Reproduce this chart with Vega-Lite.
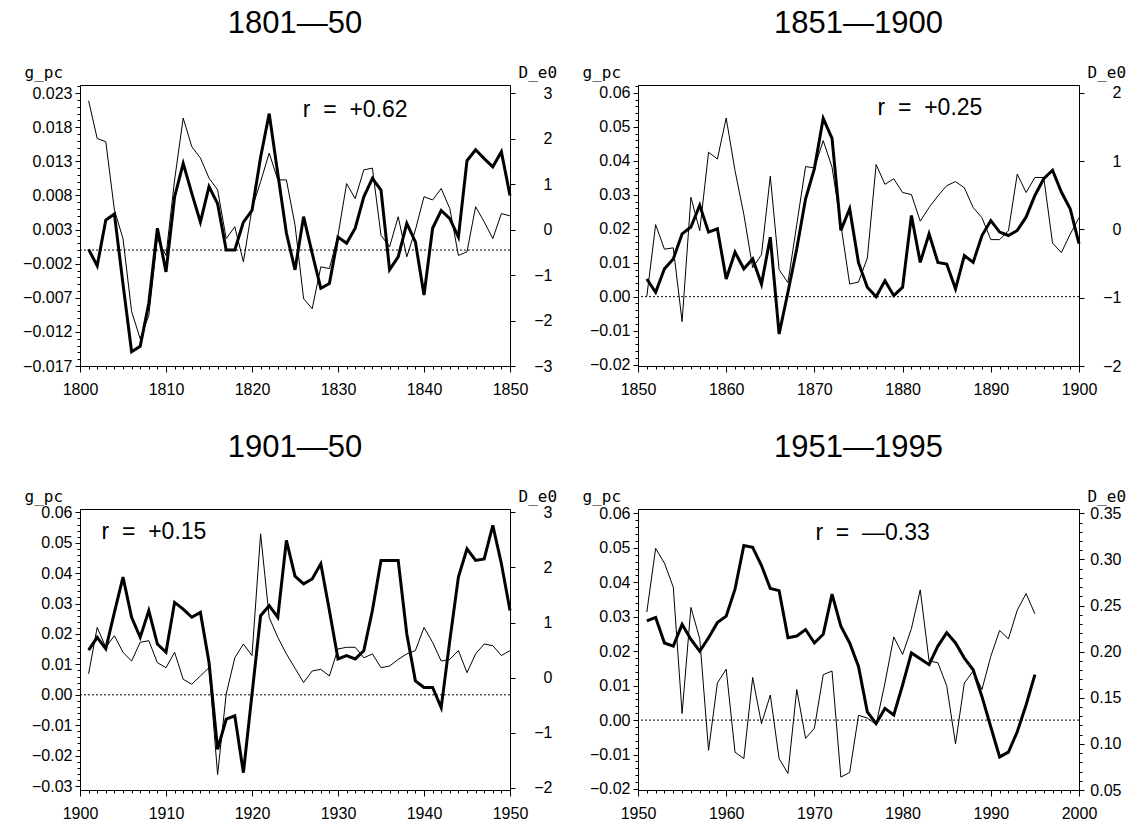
{
  "$schema": "https://vega.github.io/schema/vega-lite/v6.json",
  "padding": {"left": 22, "top": 7, "right": 0, "bottom": 0},
  "background": "white",
  "datasets": {
    "p1": [
      {"year": 1801, "g_pc": 0.0001, "D_e0": 2.83}, {"year": 1802, "g_pc": -0.0023, "D_e0": 2.0}, {"year": 1803, "g_pc": 0.0044, "D_e0": 1.93}, {"year": 1804, "g_pc": 0.0053, "D_e0": 0.43}, {"year": 1805, "g_pc": -0.005, "D_e0": -0.2},
      {"year": 1806, "g_pc": -0.0149, "D_e0": -1.8}, {"year": 1807, "g_pc": -0.0141, "D_e0": -2.4}, {"year": 1808, "g_pc": -0.0078, "D_e0": -1.89}, {"year": 1809, "g_pc": 0.0032, "D_e0": -0.2}, {"year": 1810, "g_pc": -0.0032, "D_e0": -0.57},
      {"year": 1811, "g_pc": 0.0078, "D_e0": 1.09}, {"year": 1812, "g_pc": 0.0127, "D_e0": 2.45}, {"year": 1813, "g_pc": 0.0083, "D_e0": 1.82}, {"year": 1814, "g_pc": 0.0041, "D_e0": 1.57}, {"year": 1815, "g_pc": 0.0093, "D_e0": 1.13},
      {"year": 1816, "g_pc": 0.0068, "D_e0": 0.87}, {"year": 1817, "g_pc": 0.0, "D_e0": -0.2}, {"year": 1818, "g_pc": 0.0, "D_e0": 0.06}, {"year": 1819, "g_pc": 0.0041, "D_e0": -0.71}, {"year": 1820, "g_pc": 0.0058, "D_e0": 0.46},
      {"year": 1821, "g_pc": 0.0136, "D_e0": 1.05}, {"year": 1822, "g_pc": 0.020, "D_e0": 1.68}, {"year": 1823, "g_pc": 0.0112, "D_e0": 1.09}, {"year": 1824, "g_pc": 0.0025, "D_e0": 1.09}, {"year": 1825, "g_pc": -0.0029, "D_e0": 0.1},
      {"year": 1826, "g_pc": 0.0049, "D_e0": -1.52}, {"year": 1827, "g_pc": -0.0005, "D_e0": -1.74}, {"year": 1828, "g_pc": -0.0056, "D_e0": -0.82}, {"year": 1829, "g_pc": -0.0049, "D_e0": -0.86}, {"year": 1830, "g_pc": 0.0019, "D_e0": -0.13},
      {"year": 1831, "g_pc": 0.0010, "D_e0": 1.01}, {"year": 1832, "g_pc": 0.0032, "D_e0": 0.68}, {"year": 1833, "g_pc": 0.0078, "D_e0": 1.31}, {"year": 1834, "g_pc": 0.0105, "D_e0": 1.35}, {"year": 1835, "g_pc": 0.0088, "D_e0": -0.13},
      {"year": 1836, "g_pc": -0.0029, "D_e0": -0.38}, {"year": 1837, "g_pc": -0.0010, "D_e0": 0.28}, {"year": 1838, "g_pc": 0.0039, "D_e0": -0.6}, {"year": 1839, "g_pc": 0.0012, "D_e0": -0.01}, {"year": 1840, "g_pc": -0.0066, "D_e0": 0.72},
      {"year": 1841, "g_pc": 0.0032, "D_e0": 0.65}, {"year": 1842, "g_pc": 0.0058, "D_e0": 0.9}, {"year": 1843, "g_pc": 0.0046, "D_e0": 0.46}, {"year": 1844, "g_pc": 0.0019, "D_e0": -0.57}, {"year": 1845, "g_pc": 0.0131, "D_e0": -0.49},
      {"year": 1846, "g_pc": 0.0147, "D_e0": 0.5}, {"year": 1847, "g_pc": 0.0134, "D_e0": 0.17}, {"year": 1848, "g_pc": 0.0122, "D_e0": -0.2}, {"year": 1849, "g_pc": 0.0144, "D_e0": 0.35}, {"year": 1850, "g_pc": 0.0080, "D_e0": 0.3}
    ],
    "p2": [
      {"year": 1851, "g_pc": 0.0052, "D_e0": -0.98}, {"year": 1852, "g_pc": 0.0013, "D_e0": 0.07}, {"year": 1853, "g_pc": 0.0082, "D_e0": -0.29}, {"year": 1854, "g_pc": 0.0111, "D_e0": -0.27}, {"year": 1855, "g_pc": 0.0185, "D_e0": -1.35},
      {"year": 1856, "g_pc": 0.0205, "D_e0": 0.47}, {"year": 1857, "g_pc": 0.0269, "D_e0": -0.02}, {"year": 1858, "g_pc": 0.019, "D_e0": 1.13}, {"year": 1859, "g_pc": 0.020, "D_e0": 1.03}, {"year": 1860, "g_pc": 0.0052, "D_e0": 1.63},
      {"year": 1861, "g_pc": 0.0131, "D_e0": 0.86}, {"year": 1862, "g_pc": 0.0082, "D_e0": 0.22}, {"year": 1863, "g_pc": 0.0111, "D_e0": -0.56}, {"year": 1864, "g_pc": 0.0037, "D_e0": -0.37}, {"year": 1865, "g_pc": 0.0175, "D_e0": 0.78},
      {"year": 1866, "g_pc": -0.011, "D_e0": -0.59}, {"year": 1867, "g_pc": 0.0013, "D_e0": -0.78}, {"year": 1868, "g_pc": 0.0141, "D_e0": 0.07}, {"year": 1869, "g_pc": 0.0288, "D_e0": 0.92}, {"year": 1870, "g_pc": 0.0377, "D_e0": 0.9},
      {"year": 1871, "g_pc": 0.0525, "D_e0": 1.3}, {"year": 1872, "g_pc": 0.0466, "D_e0": 0.91}, {"year": 1873, "g_pc": 0.0195, "D_e0": 0.07}, {"year": 1874, "g_pc": 0.0259, "D_e0": -0.8}, {"year": 1875, "g_pc": 0.010, "D_e0": -0.77},
      {"year": 1876, "g_pc": 0.0028, "D_e0": -0.42}, {"year": 1877, "g_pc": 0.0, "D_e0": 0.95}, {"year": 1878, "g_pc": 0.0047, "D_e0": 0.66}, {"year": 1879, "g_pc": 0.0003, "D_e0": 0.74}, {"year": 1880, "g_pc": 0.0028, "D_e0": 0.54},
      {"year": 1881, "g_pc": 0.0239, "D_e0": 0.51}, {"year": 1882, "g_pc": 0.0101, "D_e0": 0.12}, {"year": 1883, "g_pc": 0.0185, "D_e0": 0.32}, {"year": 1884, "g_pc": 0.0101, "D_e0": 0.49}, {"year": 1885, "g_pc": 0.0096, "D_e0": 0.64},
      {"year": 1886, "g_pc": 0.0023, "D_e0": 0.7}, {"year": 1887, "g_pc": 0.0121, "D_e0": 0.61}, {"year": 1888, "g_pc": 0.0101, "D_e0": 0.32}, {"year": 1889, "g_pc": 0.018, "D_e0": 0.17}, {"year": 1890, "g_pc": 0.0224, "D_e0": -0.15},
      {"year": 1891, "g_pc": 0.019, "D_e0": -0.15}, {"year": 1892, "g_pc": 0.018, "D_e0": -0.02}, {"year": 1893, "g_pc": 0.0195, "D_e0": 0.81}, {"year": 1894, "g_pc": 0.0234, "D_e0": 0.54}, {"year": 1895, "g_pc": 0.0298, "D_e0": 0.76},
      {"year": 1896, "g_pc": 0.0347, "D_e0": 0.76}, {"year": 1897, "g_pc": 0.0372, "D_e0": -0.2}, {"year": 1898, "g_pc": 0.0308, "D_e0": -0.34}, {"year": 1899, "g_pc": 0.0259, "D_e0": -0.07}, {"year": 1900, "g_pc": 0.0156, "D_e0": 0.17}
    ],
    "p3": [
      {"year": 1901, "g_pc": 0.0147, "D_e0": 0.07}, {"year": 1902, "g_pc": 0.0189, "D_e0": 0.91}, {"year": 1903, "g_pc": 0.0151, "D_e0": 0.55}, {"year": 1904, "g_pc": 0.0271, "D_e0": 0.76}, {"year": 1905, "g_pc": 0.0387, "D_e0": 0.46},
      {"year": 1906, "g_pc": 0.0255, "D_e0": 0.3}, {"year": 1907, "g_pc": 0.0189, "D_e0": 0.64}, {"year": 1908, "g_pc": 0.0277, "D_e0": 0.67}, {"year": 1909, "g_pc": 0.0167, "D_e0": 0.27}, {"year": 1910, "g_pc": 0.014, "D_e0": 0.18},
      {"year": 1911, "g_pc": 0.0304, "D_e0": 0.46}, {"year": 1912, "g_pc": 0.0282, "D_e0": -0.03}, {"year": 1913, "g_pc": 0.0255, "D_e0": -0.12}, {"year": 1914, "g_pc": 0.0271, "D_e0": 0.03}, {"year": 1915, "g_pc": 0.0107, "D_e0": 0.18},
      {"year": 1916, "g_pc": -0.0179, "D_e0": -1.76}, {"year": 1917, "g_pc": -0.008, "D_e0": -0.3}, {"year": 1918, "g_pc": -0.0069, "D_e0": 0.36}, {"year": 1919, "g_pc": -0.0256, "D_e0": 0.61}, {"year": 1920, "g_pc": 0.0002, "D_e0": 0.4},
      {"year": 1921, "g_pc": 0.026, "D_e0": 2.61}, {"year": 1922, "g_pc": 0.0293, "D_e0": 1.09}, {"year": 1923, "g_pc": 0.0255, "D_e0": 0.73}, {"year": 1924, "g_pc": 0.0508, "D_e0": 0.43}, {"year": 1925, "g_pc": 0.039, "D_e0": 0.17},
      {"year": 1926, "g_pc": 0.0365, "D_e0": -0.09}, {"year": 1927, "g_pc": 0.0381, "D_e0": 0.12}, {"year": 1928, "g_pc": 0.0431, "D_e0": 0.15}, {"year": 1929, "g_pc": 0.0277, "D_e0": 0.03}, {"year": 1930, "g_pc": 0.0118, "D_e0": 0.52},
      {"year": 1931, "g_pc": 0.0129, "D_e0": 0.55}, {"year": 1932, "g_pc": 0.0118, "D_e0": 0.55}, {"year": 1933, "g_pc": 0.0145, "D_e0": 0.36}, {"year": 1934, "g_pc": 0.0277, "D_e0": 0.43}, {"year": 1935, "g_pc": 0.0442, "D_e0": 0.18},
      {"year": 1936, "g_pc": 0.0442, "D_e0": 0.21}, {"year": 1937, "g_pc": 0.0442, "D_e0": 0.33}, {"year": 1938, "g_pc": 0.020, "D_e0": 0.43}, {"year": 1939, "g_pc": 0.0046, "D_e0": 0.49}, {"year": 1940, "g_pc": 0.0024, "D_e0": 0.91},
      {"year": 1941, "g_pc": 0.0024, "D_e0": 0.64}, {"year": 1942, "g_pc": -0.0042, "D_e0": 0.3}, {"year": 1943, "g_pc": 0.0178, "D_e0": 0.33}, {"year": 1944, "g_pc": 0.0387, "D_e0": 0.49}, {"year": 1945, "g_pc": 0.048, "D_e0": 0.09},
      {"year": 1946, "g_pc": 0.0442, "D_e0": 0.43}, {"year": 1947, "g_pc": 0.0447, "D_e0": 0.61}, {"year": 1948, "g_pc": 0.0557, "D_e0": 0.58}, {"year": 1949, "g_pc": 0.0431, "D_e0": 0.4}, {"year": 1950, "g_pc": 0.0277, "D_e0": 0.49}
    ],
    "p4": [
      {"year": 1951, "g_pc": 0.0288, "D_e0": 0.243}, {"year": 1952, "g_pc": 0.0298, "D_e0": 0.312}, {"year": 1953, "g_pc": 0.0224, "D_e0": 0.296}, {"year": 1954, "g_pc": 0.0215, "D_e0": 0.27}, {"year": 1955, "g_pc": 0.0278, "D_e0": 0.133},
      {"year": 1956, "g_pc": 0.0234, "D_e0": 0.248}, {"year": 1957, "g_pc": 0.020, "D_e0": 0.214}, {"year": 1958, "g_pc": 0.0239, "D_e0": 0.093}, {"year": 1959, "g_pc": 0.0283, "D_e0": 0.166}, {"year": 1960, "g_pc": 0.0302, "D_e0": 0.181},
      {"year": 1961, "g_pc": 0.038, "D_e0": 0.091}, {"year": 1962, "g_pc": 0.0507, "D_e0": 0.084}, {"year": 1963, "g_pc": 0.0502, "D_e0": 0.172}, {"year": 1964, "g_pc": 0.0449, "D_e0": 0.122}, {"year": 1965, "g_pc": 0.0382, "D_e0": 0.153},
      {"year": 1966, "g_pc": 0.0376, "D_e0": 0.084}, {"year": 1967, "g_pc": 0.0239, "D_e0": 0.068}, {"year": 1968, "g_pc": 0.0244, "D_e0": 0.159}, {"year": 1969, "g_pc": 0.0263, "D_e0": 0.106}, {"year": 1970, "g_pc": 0.0224, "D_e0": 0.117},
      {"year": 1971, "g_pc": 0.0249, "D_e0": 0.175}, {"year": 1972, "g_pc": 0.0366, "D_e0": 0.179}, {"year": 1973, "g_pc": 0.0273, "D_e0": 0.064}, {"year": 1974, "g_pc": 0.0224, "D_e0": 0.069}, {"year": 1975, "g_pc": 0.0156, "D_e0": 0.131},
      {"year": 1976, "g_pc": 0.0024, "D_e0": 0.128}, {"year": 1977, "g_pc": -0.001, "D_e0": 0.121}, {"year": 1978, "g_pc": 0.0034, "D_e0": 0.166}, {"year": 1979, "g_pc": 0.0015, "D_e0": 0.216}, {"year": 1980, "g_pc": 0.0102, "D_e0": 0.197},
      {"year": 1981, "g_pc": 0.0195, "D_e0": 0.225}, {"year": 1982, "g_pc": 0.0178, "D_e0": 0.267}, {"year": 1983, "g_pc": 0.0161, "D_e0": 0.19}, {"year": 1984, "g_pc": 0.0215, "D_e0": 0.188}, {"year": 1985, "g_pc": 0.0254, "D_e0": 0.163},
      {"year": 1986, "g_pc": 0.0224, "D_e0": 0.1}, {"year": 1987, "g_pc": 0.018, "D_e0": 0.166}, {"year": 1988, "g_pc": 0.0146, "D_e0": 0.179}, {"year": 1989, "g_pc": 0.0068, "D_e0": 0.159}, {"year": 1990, "g_pc": -0.002, "D_e0": 0.195},
      {"year": 1991, "g_pc": -0.0107, "D_e0": 0.223}, {"year": 1992, "g_pc": -0.0093, "D_e0": 0.214}, {"year": 1993, "g_pc": -0.0034, "D_e0": 0.245}, {"year": 1994, "g_pc": 0.0044, "D_e0": 0.263}, {"year": 1995, "g_pc": 0.0132, "D_e0": 0.241}
    ]
  },
  "config": {
    "font": "Liberation Sans",
    "view": {"stroke": "black", "strokeWidth": 1},
    "axis": {"grid": false, "domainColor": "black", "tickColor": "black", "labelColor": "black", "labelFont": "Liberation Sans", "labelFontSize": 16, "labelOverlap": false, "labelFlush": false, "titleFont": "DejaVu Sans Mono", "titleFontSize": 16, "titleFontWeight": "normal", "titleColor": "black", "tickWidth": 1, "domainWidth": 1},
    "title": {"font": "Liberation Sans", "fontSize": 31, "fontWeight": "normal", "color": "black", "baseline": "alphabetic", "offset": 24, "frame": "group", "anchor": "middle"}
  },
  "columns": 2,
  "bounds": "flush",
  "spacing": {"row": 143, "column": 128},
  "concat": [
    {
      "title": "1801—50",
      "width": 430, "height": 281,
      "layer": [
        {
          "data": {"name": "p1"},
          "mark": {"type": "line", "color": "black", "strokeWidth": 1},
          "encoding": {
            "x": {"field": "year", "type": "quantitative", "scale": {"domain": [1800, 1850], "nice": false, "zero": false},
              "axis": {"title": null, "tickCount": 50, "format": "d", "labelExpr": "datum.value % 10 === 0 ? datum.label : ''", "tickSize": {"condition": {"test": "datum.value % 10 === 0", "value": 6}, "value": 3}, "labelPadding": 9}},
            "y": {"field": "D_e0", "type": "quantitative", "scale": {"domain": [-3, 3.176], "nice": false, "zero": false},
              "axis": {"orient": "right", "title": "D_e0", "titleAngle": 0, "titleAlign": "left", "titleBaseline": "alphabetic", "titleX": 8, "titleY": -8, "tickCount": 62, "format": "d", "labelExpr": "abs(datum.value - round(datum.value)) < 0.01 ? datum.label : ''", "tickSize": {"condition": {"test": "abs(datum.value - round(datum.value)) < 0.01", "value": 5}, "value": 3}, "labelAlign": "right", "labelPadding": 37}}
          }
        },
        {
          "layer": [
            {
              "data": {"name": "p1"},
              "mark": {"type": "line", "color": "black", "strokeWidth": 3},
              "encoding": {
                "x": {"field": "year", "type": "quantitative", "scale": {"domain": [1800, 1850], "nice": false, "zero": false},
                  "axis": {"title": null, "tickCount": 50, "format": "d", "labelExpr": "datum.value % 10 === 0 ? datum.label : ''", "tickSize": {"condition": {"test": "datum.value % 10 === 0", "value": 6}, "value": 3}, "labelPadding": 9}},
                "y": {"field": "g_pc", "type": "quantitative", "scale": {"domain": [-0.017, 0.0242], "nice": false, "zero": false},
                  "axis": {"orient": "left", "title": "g_pc", "titleAngle": 0, "titleAlign": "left", "titleBaseline": "alphabetic", "titleX": -56, "titleY": -8, "tickCount": 41, "format": ".3f", "labelExpr": "abs((datum.value + 0.017) * 200 - round((datum.value + 0.017) * 200)) < 0.01 ? datum.label : ''", "tickSize": {"condition": {"test": "abs((datum.value + 0.017) * 200 - round((datum.value + 0.017) * 200)) < 0.01", "value": 5}, "value": 3}, "labelPadding": 3}}
              }
            },
            {
              "data": {"values": [{}]},
              "mark": {"type": "rule", "color": "black", "strokeWidth": 1, "strokeDash": [2, 2]},
              "encoding": {"y": {"datum": 0, "type": "quantitative"}}
            },
            {
              "data": {"values": [{}]},
              "mark": {"type": "text", "font": "Liberation Sans", "fontSize": 23, "color": "black", "align": "center", "baseline": "middle"},
              "encoding": {"x": {"datum": 1832, "type": "quantitative"}, "y": {"datum": 0.0205, "type": "quantitative"}, "text": {"value": "r\u00a0\u00a0=\u00a0\u00a0+0.62"}}
            }
          ]
        }
      ],
      "resolve": {"scale": {"y": "independent"}}
    },
    {
      "title": "1851—1900",
      "width": 441, "height": 281,
      "layer": [
        {
          "data": {"name": "p2"},
          "mark": {"type": "line", "color": "black", "strokeWidth": 1},
          "encoding": {
            "x": {"field": "year", "type": "quantitative", "scale": {"domain": [1850, 1900], "nice": false, "zero": false},
              "axis": {"title": null, "tickCount": 50, "format": "d", "labelExpr": "datum.value % 10 === 0 ? datum.label : ''", "tickSize": {"condition": {"test": "datum.value % 10 === 0", "value": 6}, "value": 3}, "labelPadding": 9}},
            "y": {"field": "D_e0", "type": "quantitative", "scale": {"domain": [-2, 2.114], "nice": false, "zero": false},
              "axis": {"orient": "right", "title": "D_e0", "titleAngle": 0, "titleAlign": "left", "titleBaseline": "alphabetic", "titleX": 8, "titleY": -8, "tickCount": 41, "format": "d", "labelExpr": "abs(datum.value - round(datum.value)) < 0.01 ? datum.label : ''", "tickSize": {"condition": {"test": "abs(datum.value - round(datum.value)) < 0.01", "value": 5}, "value": 3}, "labelAlign": "right", "labelPadding": 37}}
          }
        },
        {
          "layer": [
            {
              "data": {"name": "p2"},
              "mark": {"type": "line", "color": "black", "strokeWidth": 3},
              "encoding": {
                "x": {"field": "year", "type": "quantitative", "scale": {"domain": [1850, 1900], "nice": false, "zero": false},
                  "axis": {"title": null, "tickCount": 50, "format": "d", "labelExpr": "datum.value % 10 === 0 ? datum.label : ''", "tickSize": {"condition": {"test": "datum.value % 10 === 0", "value": 6}, "value": 3}, "labelPadding": 9}},
                "y": {"field": "g_pc", "type": "quantitative", "scale": {"domain": [-0.0204, 0.0623], "nice": false, "zero": false},
                  "axis": {"orient": "left", "title": "g_pc", "titleAngle": 0, "titleAlign": "left", "titleBaseline": "alphabetic", "titleX": -56, "titleY": -8, "tickCount": 41, "format": ".2f", "labelExpr": "abs(datum.value * 100 - round(datum.value * 100)) < 0.01 ? datum.label : ''", "tickSize": {"condition": {"test": "abs(datum.value * 100 - round(datum.value * 100)) < 0.01", "value": 5}, "value": 3}, "labelPadding": 3}}
              }
            },
            {
              "data": {"values": [{}]},
              "mark": {"type": "rule", "color": "black", "strokeWidth": 1, "strokeDash": [2, 2]},
              "encoding": {"y": {"datum": 0, "type": "quantitative"}}
            },
            {
              "data": {"values": [{}]},
              "mark": {"type": "text", "font": "Liberation Sans", "fontSize": 23, "color": "black", "align": "center", "baseline": "middle"},
              "encoding": {"x": {"datum": 1883.1, "type": "quantitative"}, "y": {"datum": 0.0555, "type": "quantitative"}, "text": {"value": "r\u00a0\u00a0=\u00a0\u00a0+0.25"}}
            }
          ]
        }
      ],
      "resolve": {"scale": {"y": "independent"}}
    },
    {
      "title": "1901—50",
      "width": 430, "height": 281,
      "layer": [
        {
          "data": {"name": "p3"},
          "mark": {"type": "line", "color": "black", "strokeWidth": 1},
          "encoding": {
            "x": {"field": "year", "type": "quantitative", "scale": {"domain": [1900, 1950], "nice": false, "zero": false},
              "axis": {"title": null, "tickCount": 50, "format": "d", "labelExpr": "datum.value % 10 === 0 ? datum.label : ''", "tickSize": {"condition": {"test": "datum.value % 10 === 0", "value": 6}, "value": 3}, "labelPadding": 9}},
            "y": {"field": "D_e0", "type": "quantitative", "scale": {"domain": [-2.04, 3.06], "nice": false, "zero": false},
              "axis": {"orient": "right", "title": "D_e0", "titleAngle": 0, "titleAlign": "left", "titleBaseline": "alphabetic", "titleX": 8, "titleY": -8, "tickCount": 51, "format": "d", "labelExpr": "abs(datum.value - round(datum.value)) < 0.01 ? datum.label : ''", "tickSize": {"condition": {"test": "abs(datum.value - round(datum.value)) < 0.01", "value": 5}, "value": 3}, "labelAlign": "right", "labelPadding": 37}}
          }
        },
        {
          "layer": [
            {
              "data": {"name": "p3"},
              "mark": {"type": "line", "color": "black", "strokeWidth": 3},
              "encoding": {
                "x": {"field": "year", "type": "quantitative", "scale": {"domain": [1900, 1950], "nice": false, "zero": false},
                  "axis": {"title": null, "tickCount": 50, "format": "d", "labelExpr": "datum.value % 10 === 0 ? datum.label : ''", "tickSize": {"condition": {"test": "datum.value % 10 === 0", "value": 6}, "value": 3}, "labelPadding": 9}},
                "y": {"field": "g_pc", "type": "quantitative", "scale": {"domain": [-0.0313, 0.0611], "nice": false, "zero": false},
                  "axis": {"orient": "left", "title": "g_pc", "titleAngle": 0, "titleAlign": "left", "titleBaseline": "alphabetic", "titleX": -56, "titleY": -8, "tickCount": 46, "format": ".2f", "labelExpr": "abs(datum.value * 100 - round(datum.value * 100)) < 0.01 ? datum.label : ''", "tickSize": {"condition": {"test": "abs(datum.value * 100 - round(datum.value * 100)) < 0.01", "value": 5}, "value": 3}, "labelPadding": 3}}
              }
            },
            {
              "data": {"values": [{}]},
              "mark": {"type": "rule", "color": "black", "strokeWidth": 1, "strokeDash": [2, 2]},
              "encoding": {"y": {"datum": 0, "type": "quantitative"}}
            },
            {
              "data": {"values": [{}]},
              "mark": {"type": "text", "font": "Liberation Sans", "fontSize": 23, "color": "black", "align": "center", "baseline": "middle"},
              "encoding": {"x": {"datum": 1908.6, "type": "quantitative"}, "y": {"datum": 0.0536, "type": "quantitative"}, "text": {"value": "r\u00a0\u00a0=\u00a0\u00a0+0.15"}}
            }
          ]
        }
      ],
      "resolve": {"scale": {"y": "independent"}}
    },
    {
      "title": "1951—1995",
      "width": 441, "height": 281,
      "layer": [
        {
          "data": {"name": "p4"},
          "mark": {"type": "line", "color": "black", "strokeWidth": 1},
          "encoding": {
            "x": {"field": "year", "type": "quantitative", "scale": {"domain": [1950, 2000], "nice": false, "zero": false},
              "axis": {"title": null, "tickCount": 50, "format": "d", "labelExpr": "datum.value % 10 === 0 ? datum.label : ''", "tickSize": {"condition": {"test": "datum.value % 10 === 0", "value": 6}, "value": 3}, "labelPadding": 9}},
            "y": {"field": "D_e0", "type": "quantitative", "scale": {"domain": [0.05, 0.3547], "nice": false, "zero": false},
              "axis": {"orient": "right", "title": "D_e0", "titleAngle": 0, "titleAlign": "left", "titleBaseline": "alphabetic", "titleX": 8, "titleY": -8, "tickCount": 30, "format": ".2f", "labelExpr": "abs(datum.value * 20 - round(datum.value * 20)) < 0.01 ? datum.label : ''", "tickSize": {"condition": {"test": "abs(datum.value * 20 - round(datum.value * 20)) < 0.01", "value": 5}, "value": 3}, "labelAlign": "right", "labelPadding": 37}}
          }
        },
        {
          "layer": [
            {
              "data": {"name": "p4"},
              "mark": {"type": "line", "color": "black", "strokeWidth": 3},
              "encoding": {
                "x": {"field": "year", "type": "quantitative", "scale": {"domain": [1950, 2000], "nice": false, "zero": false},
                  "axis": {"title": null, "tickCount": 50, "format": "d", "labelExpr": "datum.value % 10 === 0 ? datum.label : ''", "tickSize": {"condition": {"test": "datum.value % 10 === 0", "value": 6}, "value": 3}, "labelPadding": 9}},
                "y": {"field": "g_pc", "type": "quantitative", "scale": {"domain": [-0.0203, 0.0613], "nice": false, "zero": false},
                  "axis": {"orient": "left", "title": "g_pc", "titleAngle": 0, "titleAlign": "left", "titleBaseline": "alphabetic", "titleX": -56, "titleY": -8, "tickCount": 41, "format": ".2f", "labelExpr": "abs(datum.value * 100 - round(datum.value * 100)) < 0.01 ? datum.label : ''", "tickSize": {"condition": {"test": "abs(datum.value * 100 - round(datum.value * 100)) < 0.01", "value": 5}, "value": 3}, "labelPadding": 3}}
              }
            },
            {
              "data": {"values": [{}]},
              "mark": {"type": "rule", "color": "black", "strokeWidth": 1, "strokeDash": [2, 2]},
              "encoding": {"y": {"datum": 0, "type": "quantitative"}}
            },
            {
              "data": {"values": [{}]},
              "mark": {"type": "text", "font": "Liberation Sans", "fontSize": 23, "color": "black", "align": "center", "baseline": "middle"},
              "encoding": {"x": {"datum": 1976.6, "type": "quantitative"}, "y": {"datum": 0.0542, "type": "quantitative"}, "text": {"value": "r\u00a0\u00a0=\u00a0\u00a0—0.33"}}
            }
          ]
        }
      ],
      "resolve": {"scale": {"y": "independent"}}
    }
  ]
}
